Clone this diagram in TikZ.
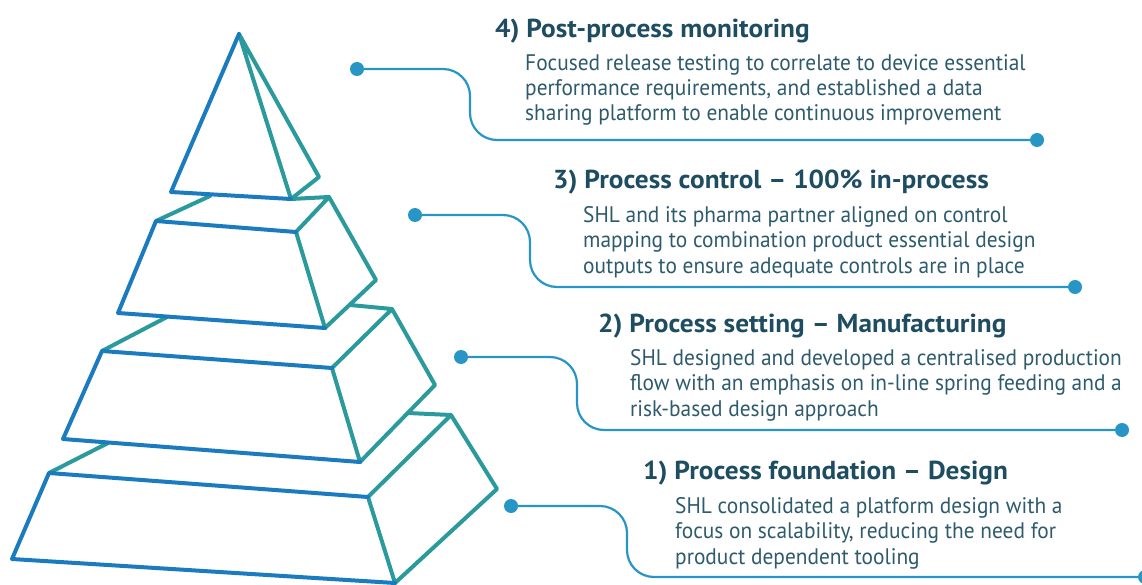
\documentclass[tikz,border=0pt]{standalone}
\usepackage{fontspec}
\setmainfont{PT Sans}
\newfontfamily\headfont[FakeStretch=1.05]{PT Sans}
\newfontfamily\bodyfont[FakeStretch=0.95]{PT Sans}
\usetikzlibrary{calc}

\definecolor{frontblue}{HTML}{1A7BBF}
\definecolor{sideteal}{HTML}{2A9A9C}
\definecolor{linkblue}{HTML}{2796C6}
\definecolor{headcol}{HTML}{1E4D62}
\definecolor{bodycol}{HTML}{2D5A6C}

\tikzset{
  front/.style={draw=frontblue, line width=4pt, line cap=round, line join=round},
  side/.style={draw=sideteal, line width=4pt, line cap=round, line join=round},
  link/.style={draw=linkblue, line width=2.2pt, rounded corners=27pt},
  dot/.style={circle, fill=linkblue, inner sep=0pt, minimum size=14pt},
  head/.style={anchor=base west, inner sep=0pt, text=headcol,
    font=\headfont\fontsize{26}{30}\selectfont\bfseries},
  body/.style={anchor=north west, inner sep=0pt, align=left, text=bodycol,
    font=\bodyfont\fontsize{22.5}{25.4}\selectfont},
}

\begin{document}
\begin{tikzpicture}[x=1pt, y=-1pt]
  \useasboundingbox (0,0) rectangle (1142,585);

  % 1. Define the pyramid corners (tier 4 is the top)
  \coordinate (A4) at (239,34);  \coordinate (L4) at (171,192);
  \coordinate (R4) at (291,199); \coordinate (S4) at (319,177);

  \coordinate (K3) at (156,221); \coordinate (J3) at (210,196);
  \coordinate (Q3) at (329,197); \coordinate (F3) at (296,232);
  \coordinate (L3) at (118,313); \coordinate (R3) at (325,328);
  \coordinate (S3) at (376,280);

  \coordinate (K2) at (102,351); \coordinate (J2) at (167,317);
  \coordinate (P2) at (350,305); \coordinate (Q2) at (392,309);
  \coordinate (F2) at (332,368); \coordinate (L2) at (63,439);
  \coordinate (R2) at (360,462); \coordinate (S2) at (435,385);

  \coordinate (K1) at (49,473);  \coordinate (J1) at (108,443);
  \coordinate (P1) at (408,413); \coordinate (Q1) at (451,415);
  \coordinate (F1) at (368,497); \coordinate (L1) at (12,559);
  \coordinate (R1) at (395,583); \coordinate (S1) at (497,489);

  % 2. Draw the side faces (teal) and the front faces (blue)
  \draw[side] (A4) -- (R4) (A4) -- (S4) -- (R4);
  \draw[side] (K3) -- (J3) (R4) -- (Q3) -- (F3) -- (R3) (Q3) -- (S3) -- (R3);
  \draw[side] (K2) -- (J2) (P2) -- (Q2) -- (F2) -- (R2) (Q2) -- (S2) -- (R2);
  \draw[side] (K1) -- (J1) (P1) -- (Q1) -- (F1) -- (R1) (Q1) -- (S1) -- (R1);
  \draw[front] (A4) -- (L4) -- (R4);
  \draw[front] (F3) -- (K3) -- (L3) -- (R3);
  \draw[front] (F2) -- (K2) -- (L2) -- (R2);
  \draw[front] (F1) -- (K1) -- (L1) -- (R1);

  % 3. Place the headings and their texts
  \node[head] (t4) at (495,38) {4) Post-process monitoring};
  \node[body] (b4) at (525,54) {Focused release testing to correlate to device essential\\
    performance requirements, and established a data\\
    sharing platform to enable continuous improvement};

  \node[head] (t3) at (553,189) {3) Process control – 100\% in-process};
  \node[body] (b3) at (583,206) {SHL and its pharma partner aligned on control\\
    mapping to combination product essential design\\
    outputs to ensure adequate controls are in place};

  \node[head] (t2) at (598,332) {2) Process setting – Manufacturing};
  \node[body] (b2) at (630,349) {SHL designed and developed a centralised production\\
    flow with an emphasis on in-line spring feeding and a\\
    risk-based design approach};

  \node[head] (t1) at (643,479) {1) Process foundation – Design};
  \node[body] (b1) at (675,497) {SHL consolidated a platform design with a\\
    focus on scalability, reducing the need for\\
    product dependent tooling};

  % 4. Draw the connectors with their end dots
  \node[dot] (d4l) at (357,69) {};  \node[dot] (d4r) at (1037,140) {};
  \node[dot] (d3l) at (415,215) {}; \node[dot] (d3r) at (1075,287) {};
  \node[dot] (d2l) at (461,357) {}; \node[dot] (d2r) at (1122,430) {};
  \node[dot] (d1l) at (511,506) {}; \node[dot] (d1r) at (1145,577) {};
  \coordinate (k4) at (470,140);
  \coordinate (k3) at (530,287);
  \coordinate (k2) at (577,430);
  \coordinate (k1) at (627,577);
  \draw[link] (d4l) -| (k4) -- (d4r);
  \draw[link] (d3l) -| (k3) -- (d3r);
  \draw[link] (d2l) -| (k2) -- (d2r);
  \draw[link] (d1l) -| (k1) -- (d1r);
\end{tikzpicture}
\end{document}
